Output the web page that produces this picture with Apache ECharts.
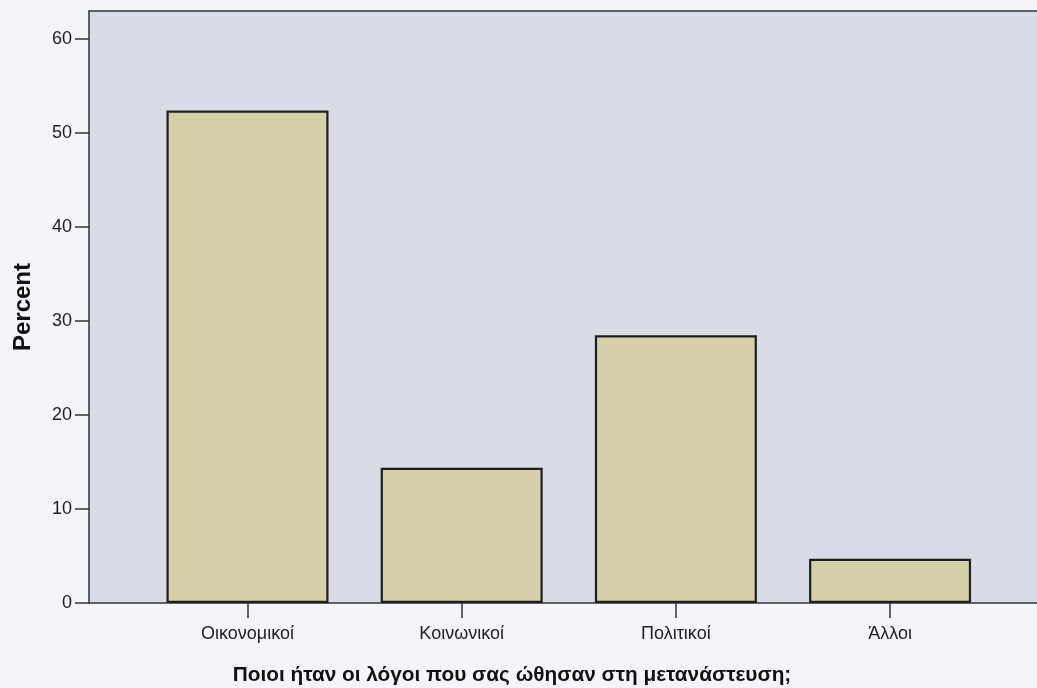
<!DOCTYPE html>
<html>
<head>
<meta charset="utf-8">
<script src="https://cdn.jsdelivr.net/npm/echarts@6/dist/echarts.min.js"></script>
<style>
  html, body { margin: 0; padding: 0; background: #f3f5f9; }
  #chart { width: 1037px; height: 688px; }
</style>
</head>
<body>
<div id="chart"></div>
<script>
// κατηγορίες και ποσοστά
const categories = ["Οικονομικοί", "Κοινωνικοί", "Πολιτικοί", "Άλλοι"];
const percentValues = [52.4, 14.4, 28.5, 4.7];
const yTicks = [0, 10, 20, 30, 40, 50, 60];

const chart = echarts.init(document.getElementById("chart"));

const positions = categories.map((c, i) => i);
const lineStyle = { color: "#333", width: 1.5 };

chart.setOption({
  backgroundColor: "#f3f5f9",
  animation: false,
  title: {
    text: "Ποιοι ήταν οι λόγοι που σας ώθησαν στη μετανάστευση;",
    left: 507,
    top: 660,
    textAlign: "center",
    textStyle: {
      fontFamily: "Liberation Sans",
      fontSize: 20.8,
      fontWeight: "bold",
      color: "#111"
    }
  },
  grid: {
    left: 89,
    right: 0,
    top: 11,
    bottom: 85,
    show: true,
    backgroundColor: "#d9dce6",
    borderWidth: 0
  },
  xAxis: [{
    type: "value",
    min: -0.74,
    max: 3.686,
    splitLine: { show: false },
    axisLine: { show: true, lineStyle: lineStyle },
    axisTick: {
      show: true,
      length: 15,
      customValues: positions,
      lineStyle: lineStyle
    },
    axisLabel: {
      customValues: positions,
      formatter: (v) => categories[Math.round(v)] || "",
      margin: 22,
      fontFamily: "Liberation Sans",
      fontSize: 18,
      color: "#222"
    }
  }, {
    // μόνο η πάνω γραμμή του πλαισίου
    type: "value",
    position: "top",
    min: -0.74,
    max: 3.686,
    splitLine: { show: false },
    axisLine: { show: true, lineStyle: lineStyle },
    axisTick: { show: false },
    axisLabel: { show: false }
  }],
  yAxis: {
    type: "value",
    min: 0,
    max: 63,
    interval: 10,
    name: "Percent",
    nameLocation: "middle",
    nameGap: 54,
    nameRotate: 90,
    nameTextStyle: {
      fontFamily: "Liberation Sans",
      fontSize: 24,
      fontWeight: "bold",
      color: "#111"
    },
    splitLine: { show: false },
    axisLine: { show: true, onZero: false, lineStyle: lineStyle },
    axisTick: { show: true, length: 14, customValues: yTicks, lineStyle: lineStyle },
    axisLabel: {
      customValues: yTicks,
      margin: 17,
      fontFamily: "Liberation Sans",
      fontSize: 18,
      color: "#222"
    }
  },
  series: [{
    type: "bar",
    data: percentValues.map((v, i) => [i, v]),
    barWidth: 162,
    itemStyle: {
      color: "#d5d0a8",
      borderColor: "#1e1e1e",
      borderWidth: 2.2
    }
  }]
});
</script>
</body>
</html>
